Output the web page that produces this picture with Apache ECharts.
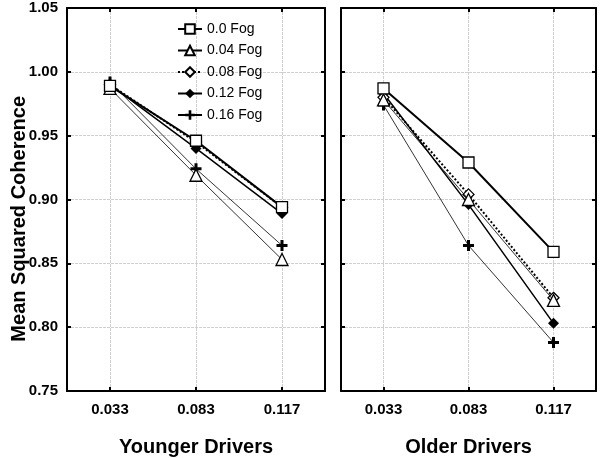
<!DOCTYPE html>
<html>
<head>
<meta charset="utf-8">
<script src="https://cdn.jsdelivr.net/npm/echarts@6/dist/echarts.min.js"></script>
<style>
  html, body { margin: 0; padding: 0; background: #fff; }
  #main { width: 600px; height: 458px; }
</style>
</head>
<body>
<div id="main"></div>
<script>
// fog rates on the x axis
const categories = ['0.033', '0.083', '0.117'];
const seriesNames = ['0.0 Fog', '0.04 Fog', '0.08 Fog', '0.12 Fog', '0.16 Fog'];

// younger drivers
const young00 = [0.989, 0.946, 0.894];
const young04 = [0.987, 0.919, 0.853];
const young08 = [0.990, 0.945, 0.894];
const young12 = [0.990, 0.940, 0.889];
const young16 = [0.992, 0.924, 0.864];

// older drivers
const old00 = [0.987, 0.929, 0.859];
const old04 = [0.978, 0.900, 0.821];
const old08 = [0.980, 0.904, 0.823];
const old12 = [0.983, 0.896, 0.803];
const old16 = [0.974, 0.864, 0.788];

const yMin = 0.75, yMax = 1.05, yStep = 0.05;

const plusPath = 'path://M4,0h3v4h4v3h-4v4h-3v-4h-4v-3h4z';
const styles = [
  {symbol: 'rect', symbolSize: 11, fill: '#fff', width: 2, type: 'solid'},
  {symbol: 'triangle', symbolSize: 12, fill: '#fff', width: 0.8, type: 'solid'},
  {symbol: 'diamond', symbolSize: 11, fill: '#fff', width: 2, type: 'dotted'},
  {symbol: 'diamond', symbolSize: 11, fill: '#000', width: 1.5, type: 'solid'},
  {symbol: plusPath, symbolSize: 11, fill: '#000', width: 0.8, type: 'solid'}
];

const gridLine = {show: true, lineStyle: {color: '#cfcfcf', width: 1, type: [3, 1]}};
const frameLine = {show: true, onZero: false, lineStyle: {color: '#000', width: 2}};
const inTick = {show: true, inside: true, length: 4, alignWithLabel: true, lineStyle: {color: '#000', width: 2}};

function makeSeries(grid, rows) {
  return rows.map((vals, i) => {
    const s = styles[i];
    return {
      name: seriesNames[i],
      type: 'line',
      xAxisIndex: grid * 2,
      yAxisIndex: grid * 2,
      data: vals,
      symbol: s.symbol,
      symbolSize: s.symbolSize,
      showAllSymbol: true,
      lineStyle: {color: '#000', width: s.width, type: s.type},
      itemStyle: {color: s.fill, borderColor: '#000', borderWidth: s.fill === '#fff' ? 1.3 : 0},
      z: 2 + (4 - i),
      animation: false
    };
  });
}

function xAxes(grid, name) {
  return [
    {
      gridIndex: grid, type: 'category', data: categories, position: 'bottom',
      axisLine: frameLine, axisTick: inTick,
      splitLine: Object.assign({alignWithLabel: true}, gridLine),
      axisLabel: {color: '#000', fontFamily: 'Arial', fontWeight: 'bold', fontSize: 15, margin: 11},
      name: name, nameLocation: 'middle', nameGap: 46,
      nameTextStyle: {color: '#000', fontFamily: 'Arial', fontWeight: 'bold', fontSize: 20}
    },
    {
      gridIndex: grid, type: 'category', data: categories, position: 'top',
      axisLine: frameLine, axisTick: inTick, axisLabel: {show: false}, splitLine: {show: false}
    }
  ];
}

function yAxes(grid, labels) {
  return [
    {
      gridIndex: grid, type: 'value', min: yMin, max: yMax, interval: yStep, position: 'left',
      axisLine: frameLine, axisTick: inTick, splitLine: gridLine,
      axisLabel: {
        show: labels, color: '#000', fontFamily: 'Arial', fontWeight: 'bold', fontSize: 15, margin: 9,
        formatter: v => v.toFixed(2)
      }
    },
    {
      gridIndex: grid, type: 'value', min: yMin, max: yMax, interval: yStep, position: 'right',
      axisLine: frameLine, axisTick: inTick, axisLabel: {show: false}, splitLine: {show: false}
    }
  ];
}

const chart = echarts.init(document.getElementById('main'), null, {renderer: 'canvas'});
chart.setOption({
  backgroundColor: '#fff',
  animation: false,
  grid: [
    {left: 67, right: 275, top: 8, bottom: 67, outerBoundsMode: 'none'},
    {left: 341, right: 4, top: 8, bottom: 67, outerBoundsMode: 'none'}
  ],
  legend: {
    data: seriesNames,
    orient: 'vertical',
    left: 172,
    top: 17,
    itemWidth: 24,
    itemHeight: 12,
    itemGap: 7.5,
    textStyle: {color: '#000', fontFamily: 'Arial', fontSize: 14},
    selectedMode: false
  },
  xAxis: xAxes(0, 'Younger Drivers').concat(xAxes(1, 'Older Drivers')),
  yAxis: yAxes(0, true).concat(yAxes(1, false)),
  graphic: [{
    type: 'text',
    left: 9,
    top: 96,
    rotation: Math.PI / 2,
    style: {text: 'Mean Squared Coherence', fill: '#000', font: 'bold 20px Arial'}
  }],
  series: makeSeries(0, [young00, young04, young08, young12, young16])
    .concat(makeSeries(1, [old00, old04, old08, old12, old16]))
});
</script>
</body>
</html>
